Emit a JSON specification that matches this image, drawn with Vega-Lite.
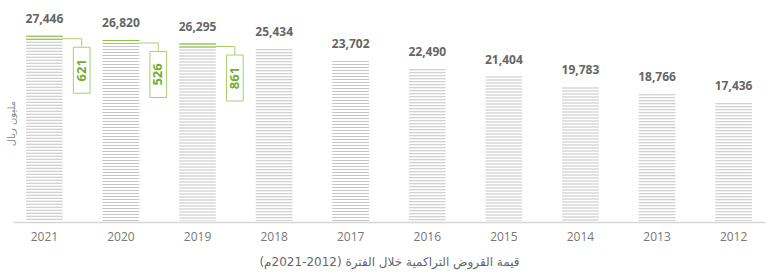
{
  "$schema": "https://vega.github.io/schema/vega-lite/v6.json",
  "width": 752,
  "height": 221,
  "autosize": {"type": "none"},
  "padding": {"left": 13, "top": 0, "right": 3, "bottom": 59},
  "background": "white",
  "config": {"view": {"stroke": null}, "font": "Open Sans"},
  "data": {
    "values": [
      {"year": "2021", "value": 27446, "base": 26820, "inc": 621},
      {"year": "2020", "value": 26820, "base": 26295, "inc": 526},
      {"year": "2019", "value": 26295, "base": 25434, "inc": 861},
      {"year": "2018", "value": 25434},
      {"year": "2017", "value": 23702},
      {"year": "2016", "value": 22490},
      {"year": "2015", "value": 21404},
      {"year": "2014", "value": 19783},
      {"year": "2013", "value": 18766},
      {"year": "2012", "value": 17436}
    ]
  },
  "encoding": {
    "x": {
      "field": "year",
      "type": "ordinal",
      "sort": "descending",
      "scale": {"paddingInner": 0.52, "paddingOuter": 0.17},
      "axis": {
        "title": "\u202bقيمة القروض التراكمية خلال الفترة (2012-2021م)\u202c",
        "titleFont": "DejaVu Sans",
        "titleFontSize": 12,
        "titleFontWeight": "normal",
        "titleColor": "#666666",
        "titlePadding": 14,
        "labelAngle": 0,
        "labelFontSize": 12,
        "labelColor": "#777777",
        "labelPadding": 9,
        "ticks": false,
        "domainColor": "#d6d6d6",
        "domainWidth": 1.5,
        "offset": 1,
        "grid": false
      }
    }
  },
  "layer": [
    {
      "mark": {"type": "rule", "strokeWidth": 36.7, "strokeDash": [1, 2], "stroke": "#c4c4c4"},
      "encoding": {
        "y": {
          "field": "value",
          "type": "quantitative",
          "scale": {"domain": [0, 32740], "nice": false},
          "axis": {
            "title": "مليون ريال",
            "titleFont": "DejaVu Sans",
            "titleFontSize": 10,
            "titleFontWeight": "normal",
            "titleColor": "#888888",
            "titleAngle": 270,
            "titleAlign": "center",
            "titleBaseline": "middle",
            "titleX": -2,
            "titleY": 123,
            "labels": false,
            "ticks": false,
            "domain": false,
            "grid": false
          }
        },
        "y2": {"datum": 0}
      }
    },
    {
      "transform": [{"filter": "isValid(datum.base)"}],
      "mark": {"type": "rule", "strokeWidth": 36.7, "strokeDash": [1, 2], "stroke": "#8cc63e"},
      "encoding": {
        "y": {"field": "value", "type": "quantitative"},
        "y2": {"field": "base"}
      }
    },
    {
      "mark": {"type": "text", "fontSize": 12, "fontWeight": "bold", "color": "#666666", "baseline": "alphabetic", "dy": -13},
      "encoding": {
        "y": {"field": "value", "type": "quantitative"},
        "text": {"field": "value", "type": "quantitative", "format": ","}
      }
    },
    {
      "transform": [{"filter": "isValid(datum.inc)"}],
      "mark": {"type": "rule", "stroke": "#a8cf6e", "strokeWidth": 1, "xOffset": 18.4, "x2Offset": 37.3, "yOffset": 3},
      "encoding": {
        "x2": {"field": "year"},
        "y": {"field": "value", "type": "quantitative"}
      }
    },
    {
      "transform": [{"filter": "isValid(datum.inc)"}],
      "mark": {"type": "rule", "stroke": "#a8cf6e", "strokeWidth": 1, "xOffset": 37.3, "yOffset": 3, "y2Offset": 11.5},
      "encoding": {
        "y": {"field": "value", "type": "quantitative"},
        "y2": {"field": "value"}
      }
    },
    {
      "transform": [{"filter": "isValid(datum.inc)"}],
      "mark": {"type": "bar", "width": 16.7, "fill": "white", "stroke": "#a8cf6e", "strokeWidth": 1, "xOffset": 37.3, "yOffset": 11.5, "y2Offset": 57.5},
      "encoding": {
        "y": {"field": "value", "type": "quantitative"},
        "y2": {"field": "value"}
      }
    },
    {
      "transform": [{"filter": "isValid(datum.inc)"}],
      "mark": {"type": "text", "fontSize": 13, "fontWeight": "bold", "color": "#72ad2e", "angle": 270, "align": "center", "baseline": "middle", "xOffset": 37.3, "yOffset": 34.5},
      "encoding": {
        "y": {"field": "value", "type": "quantitative"},
        "text": {"field": "inc", "type": "quantitative"}
      }
    }
  ]
}
